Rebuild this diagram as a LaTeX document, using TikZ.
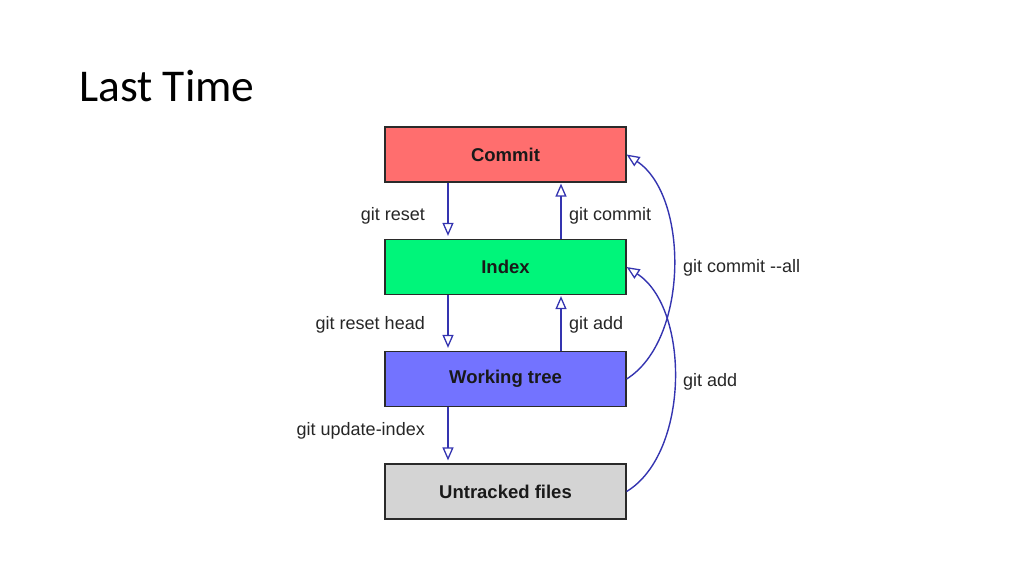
\documentclass[tikz,border=0pt]{standalone}
\usepackage{fontspec}
\setmainfont{Liberation Sans}
\newfontfamily\titlefont{Carlito}
\usetikzlibrary{arrows.meta}
\definecolor{commitred}{HTML}{FF6E6E}
\definecolor{indexgreen}{HTML}{00F57A}
\definecolor{wtblue}{HTML}{7373FF}
\definecolor{untrgray}{HTML}{D4D4D4}
\definecolor{arrowblue}{HTML}{3434B0}
\definecolor{boxline}{HTML}{2A2A2A}
\tikzset{
  stagebox/.style={draw=boxline, line width=1.2pt, minimum width=241pt, minimum height=55pt,
    inner sep=0pt, font=\fontsize{18.5}{21}\selectfont\bfseries, text=black!90},
  cmd/.style={font=\fontsize{18}{21}\selectfont, text=black!85, inner sep=0pt},
  flow/.style={draw=arrowblue, line width=1.4pt,
    -{Triangle[open, length=13pt, width=11pt, line width=1.3pt]}},
}
\begin{document}
\begin{tikzpicture}[x=1pt, y=-1pt]
\useasboundingbox (0,0) rectangle (1024,576);
\node[anchor=base west, inner sep=0pt, font=\titlefont\fontsize{45.5}{50}\selectfont] (title) at (79,101) {Last Time};

\node[stagebox, fill=commitred] (commit) at (505.5,154.5) {Commit};
\node[stagebox, fill=indexgreen] (index) at (505.5,267) {Index};
\node[stagebox, fill=wtblue] (wt) at (505.5,379) {Working tree};
\node[stagebox, fill=untrgray] (untr) at (505.5,491.5) {Untracked files};

% vertical connectors
\draw[flow, shorten >=3pt] (commit.south -| 448,0) -- (index.north -| 448,0);
\draw[flow, shorten >=1pt] (index.north -| 561,0) -- (commit.south -| 561,0);
\draw[flow, shorten >=3pt] (index.south -| 448,0) -- (wt.north -| 448,0);
\draw[flow, shorten >=1pt] (wt.north -| 561,0) -- (index.south -| 561,0);
\draw[flow, shorten >=3pt] (wt.south -| 448,0) -- (untr.north -| 448,0);

% curved connectors
\draw[flow] (wt.east) .. controls (689,340) and (689,196) .. (commit.east);
\draw[flow] (untr.east) .. controls (690,453) and (690,308) .. (index.east);

% labels
\node[cmd, anchor=east] (l1) at (425,216) {git reset};
\node[cmd, anchor=west] (l2) at (569,216) {git commit};
\node[cmd, anchor=east] (l3) at (425,325) {git reset head};
\node[cmd, anchor=west] (l4) at (569,325) {git add};
\node[cmd, anchor=east] (l5) at (425,431) {git update-index};
\node[cmd, anchor=west] (l6) at (683,268) {git commit {-}{-}all};
\node[cmd, anchor=west] (l7) at (683,382) {git add};
\end{tikzpicture}
\end{document}
